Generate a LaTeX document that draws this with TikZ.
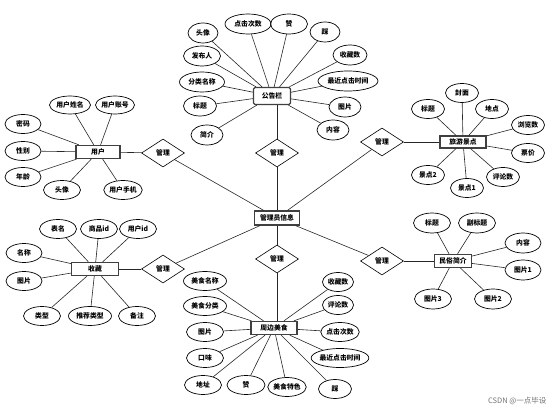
\documentclass[tikz,border=0pt]{standalone}
\usepackage{fontspec}
\setmainfont{Noto Sans CJK SC}
\usetikzlibrary{shapes.geometric}
\tikzset{
  lbl/.style={font=\fontsize{6.8}{8}\selectfont\bfseries},
  attr/.style={ellipse, draw, line width=0.7pt, minimum width=#1, minimum height=19pt, inner sep=0pt, lbl},
  attr/.default=36pt,
  ent/.style={rectangle, draw=black!75, line width=1.3pt, minimum width=#1, minimum height=13pt, inner sep=0pt, lbl},
  ent/.default=45pt,
  rel/.style={diamond, draw, line width=0.6pt, minimum width=43pt, minimum height=28pt, inner sep=0pt, lbl},
  link/.style={line width=0.6pt, draw=black!85}
}
\begin{document}
\begin{tikzpicture}[x=1pt,y=-1pt]
\useasboundingbox (0,0) rectangle (554,411);
% central
\node[ent=45pt, minimum height=14pt] (admin) at (277,218) {管理员信息};
% entities
\node[ent=37pt, minimum height=17pt, rounded corners=1.5pt] (ann) at (272,96) {公告栏};
\node[ent=44pt] (user) at (98,152) {用户};
\node[ent=47pt] (fav) at (95,269) {收藏};
\node[ent=46pt] (food) at (274,328) {周边美食};
\node[ent=46pt, minimum height=12pt] (spot) at (463,142) {旅游景点};
\node[ent=37pt] (intro) at (453,261) {民俗简介};
% relations
\node[rel] (d1) at (163,153) {管理};
\node[rel] (d2) at (163,269) {管理};
\node[rel] (d3) at (277,153) {管理};
\node[rel] (d4) at (277,259) {管理};
\node[rel] (d5) at (382,142) {管理};
\node[rel] (d6) at (382,261) {管理};
% announcement attributes
\node[attr=30pt, minimum height=20pt] (a1) at (203,33) {头像};
\node[attr=46pt, minimum height=20pt] (a2) at (248,24) {点击次数};
\node[attr=37pt, minimum height=20pt] (a3) at (289,24) {赞};
\node[attr=30pt, minimum height=20pt] (a4) at (325,32) {踩};
\node[attr=37pt, minimum height=20pt] (a5) at (202,56) {发布人};
\node[attr=34pt, minimum height=20pt] (a6) at (350,55) {收藏数};
\node[attr=45pt, minimum height=20pt] (a7) at (202,82) {分类名称};
\node[attr=60pt, minimum height=20pt] (a8) at (348,81) {最近点击时间};
\node[attr=33pt, minimum height=20pt] (a9) at (200,106) {标题};
\node[attr=32pt, minimum height=20pt] (a10) at (345,107) {图片};
\node[attr=32pt, minimum height=20pt] (a11) at (207,135) {简介};
\node[attr=32pt, minimum height=20pt] (a12) at (333,130) {内容};
% user attributes
\node[attr=41pt, minimum height=18pt] (u1) at (70,105) {用户姓名};
\node[attr=39pt, minimum height=18pt] (u2) at (115,105) {用户账号};
\node[attr=36pt] (u3) at (23,124) {密码};
\node[attr=36pt] (u4) at (23,151) {性别};
\node[attr=36pt] (u5) at (23,177) {年龄};
\node[attr=37pt] (u6) at (62,190) {头像};
\node[attr=38pt] (u7) at (123,190) {用户手机};
% favourite attributes
\node[attr=37pt] (f1) at (58,229) {表名};
\node[attr=37pt] (f2) at (99,229) {商品id};
\node[attr=37pt] (f3) at (138,229) {用户id};
\node[attr=36pt] (f4) at (24,253) {名称};
\node[attr=36pt] (f5) at (24,281) {图片};
\node[attr=37pt] (f6) at (42,316) {类型};
\node[attr=43pt] (f7) at (90,316) {推荐类型};
\node[attr=37pt] (f8) at (137,316) {备注};
% food attributes
\node[attr=43pt] (m1) at (205,281) {美食名称};
\node[attr=43pt] (m2) at (205,306) {美食分类};
\node[attr=37pt] (m3) at (205,332) {图片};
\node[attr=37pt] (m4) at (205,358) {口味};
\node[attr=37pt] (m5) at (203,385) {地址};
\node[attr=38pt] (m6) at (246,385) {赞};
\node[attr=37pt] (m7) at (287,387) {美食特色};
\node[attr=33pt] (m8) at (335,389) {踩};
\node[attr=31pt] (m9) at (338,282) {收藏数};
\node[attr=31pt] (m10) at (338,305) {评论数};
\node[attr=36pt] (m11) at (340,332) {点击次数};
\node[attr=54pt] (m12) at (340,358) {最近点击时间};
% spot attributes
\node[attr=33pt] (s1) at (428,109) {标题};
\node[attr=33pt] (s2) at (462,93) {封面};
\node[attr=33pt] (s3) at (492,109) {地点};
\node[attr=33pt] (s4) at (528,125) {浏览数};
\node[attr=33pt] (s5) at (528,153) {票价};
\node[attr=33pt] (s6) at (428,175) {景点2};
\node[attr=33pt] (s7) at (467,188) {景点1};
\node[attr=33pt] (s8) at (503,177) {评论数};
% intro attributes
\node[attr=37pt, minimum height=20pt] (i1) at (432,223) {标题};
\node[attr=37pt, minimum height=20pt] (i2) at (477,223) {副标题};
\node[attr=36pt, minimum height=20pt] (i3) at (523,243) {内容};
\node[attr=36pt, minimum height=20pt] (i4) at (523,270) {图片1};
\node[attr=37pt, minimum height=20pt] (i5) at (433,299) {图片3};
\node[attr=37pt, minimum height=20pt] (i6) at (493,299) {图片2};
% watermark
\node[text=black!55, font=\fontsize{7.5}{8}\selectfont, anchor=east] (wm) at (550,401) {CSDN @一点毕设};
% connectors
\foreach \d in {d1,d2,d3,d4,d5,d6} \draw[link] (admin) -- (\d);
\draw[link] (d1) -- (user);
\draw[link] (d2) -- (fav);
\draw[link] (d3) -- (d3 |- ann.south);
\draw[link] (d4) -- (d4 |- food.north);
\draw[link] (d5) -- (spot);
\draw[link] (d6) -- (intro);
\foreach \a in {a1,a2,a3,a4,a5,a6,a7,a8,a9,a10,a11,a12} \draw[link] (ann) -- (\a);
\foreach \a in {u1,u2,u3,u4,u5,u6,u7} \draw[link] (user) -- (\a);
\foreach \a in {f1,f2,f3,f4,f5,f6,f7,f8} \draw[link] (fav) -- (\a);
\foreach \a in {m1,m2,m3,m4,m5,m6,m7,m8,m9,m10,m11,m12} \draw[link] (food) -- (\a);
\foreach \a in {s1,s2,s3,s4,s5,s6,s7,s8} \draw[link] (spot) -- (\a);
\foreach \a in {i1,i2,i3,i4,i5,i6} \draw[link] (intro) -- (\a);
\end{tikzpicture}
\end{document}
